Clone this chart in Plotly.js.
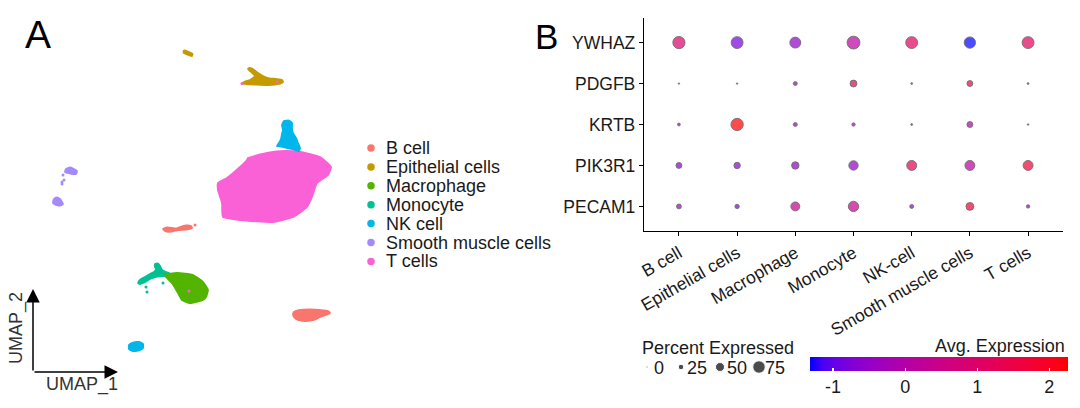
<!DOCTYPE html>
<html><head><meta charset="utf-8">
<script src="https://cdn.plot.ly/plotly-3.0.1.min.js"></script>
<style>html,body{margin:0;padding:0;background:#fff}#chart{width:1080px;height:408px}</style>
</head><body><div id="chart"></div>
<script>
// ---------- Panel A: UMAP clusters (outlines, UMAP units) ----------
const clusters = ['B cell','Epithelial cells','Macrophage','Monocyte','NK cell','Smooth muscle cells','T cells'];
const clusterColors = ['#F8766D','#C49A00','#53B400','#00C094','#00B6EB','#A58AFF','#FB61D7'];

const tcellX = [6.8,8.7,10.5,12.0,14.0,15.1,14.8,13.7,13.2,12.7,11.3,9.3,6.0,4.3,4.2,3.8,3.8,4.7,6.0,6.7];
const tcellY = [4.6,5.1,5.3,5.2,4.7,3.7,2.9,2.1,0.7,-0.3,-1.3,-1.8,-1.6,-1.3,0.1,1.4,2.1,2.6,3.7,4.4];

const nkTopX = [10.4,10.9,11.2,11.2,11.3,11.6,11.8,12.0,11.9,11.5,11.2,10.7,10.3,9.9,9.7,9.9,10.1,10.2,10.3,10.2];
const nkTopY = [8.3,8.35,8.1,7.6,7.1,6.6,6.1,5.6,5.3,5.4,5.5,5.6,5.7,5.8,5.8,6.1,6.5,7.0,7.4,7.9];
const nkLowX = [-5.1,-4.7,-4.1,-3.7,-3.7,-4.1,-4.7,-5.1];
const nkLowY = [-14.1,-13.85,-13.8,-14.0,-14.4,-14.65,-14.7,-14.5];

const epiMainX = [6.9,7.2,7.8,8.3,8.8,9.6,10.2,10.3,9.9,8.8,7.5,6.6,6.2,6.4,7.0,7.3,7.5,7.0,6.8];
const epiMainY = [13.6,13.55,13.1,12.8,12.6,12.5,12.4,12.2,12.0,11.9,11.95,12.0,12.05,12.2,12.4,12.6,12.8,13.3,13.5];
const epiSmallX = [0.4,1.25,1.2,0.35];
const epiSmallY = [15.35,15.0,14.8,15.15];

const smoothAX = [-11.4,-11.0,-10.7,-10.3,-10.4,-10.8,-11.2,-11.5];
const smoothAY = [3.5,3.65,3.55,3.3,3.0,3.0,3.1,3.2];
const smoothBX = [-12.6,-12.3,-12.0,-11.8,-11.7,-12.0,-12.4,-12.7];
const smoothBY = [0.5,0.65,0.5,0.2,0.0,-0.15,-0.1,0.1];

const bSmallX = [-1.7,-1.3,-0.8,-0.4,0.0,0.6,1.1,1.2,0.6,-0.2,-0.8,-1.4];
const bSmallY = [-2.5,-2.35,-2.4,-2.45,-2.3,-2.15,-2.2,-2.4,-2.55,-2.6,-2.75,-2.75];
const bBigX = [11.4,12.0,13.0,14.0,14.8,15.0,14.6,14.0,13.4,12.5,11.8,11.4,11.3];
const bBigY = [-10.8,-10.6,-10.55,-10.6,-10.7,-10.9,-11.1,-11.3,-11.6,-11.7,-11.6,-11.3,-11.0];

const monoX = [-2.5,-2.2,-2.0,-1.8,-1.4,-1.1,-1.2,-1.8,-2.4,-3.0,-3.5,-4.0,-4.2,-4.0,-3.5,-3.0,-2.6,-2.4,-2.5];
const monoY = [-6.0,-5.95,-6.2,-6.6,-6.8,-6.9,-7.2,-7.2,-7.3,-7.5,-7.8,-8.0,-7.9,-7.6,-7.3,-7.0,-6.8,-6.5,-6.3];

const macroX = [-1.5,-0.3,1.3,2.3,2.8,2.6,2.3,1.0,0.2,-0.2,-0.8,-1.3];
const macroY = [-7.1,-6.9,-7.1,-7.8,-8.6,-9.3,-9.6,-9.9,-9.6,-8.9,-7.9,-7.4];

// stray single cells
const strayX = [-11.7,-11.8,-11.8,-11.6,1.5,-3.3,-1.7,-3.4,0.9,6.2,9.7];
const strayY = [2.9,2.2,2.0,2.4,-2.1,-8.8,-7.9,-8.3,-8.7,12.05,12.2];
const strayCluster = [5,5,5,5,0,3,3,3,6,6,6];

// ---------- Panel B: dot plot ----------
const genes = ['YWHAZ','PDGFB','KRTB','PIK3R1','PECAM1'];
const cellTypes = ['B cell','Epithelial cells','Macrophage','Monocyte','NK-cell','Smooth muscle cells','T cells'];
const avgYWHAZ  = [0.95,-0.84,-0.56,0.12,1.15,-1.32,1.2];
const avgPDGFB  = [0.0,-0.2,-0.38,1.5,0.3,1.6,0.5];
const avgKRTB   = [-0.5,2.26,-0.4,-0.3,-0.2,-0.1,-0.3];
const avgPIK3R1 = [-0.7,-0.6,-0.5,-0.55,1.3,0.15,1.65];
const avgPECAM1 = [-0.4,-0.8,0.38,0.4,-0.6,1.75,-0.6];
const pctYWHAZ  = [77,75,68,82,75,71,75];
const pctPDGFB  = [0,0,18,39,3,32,3];
const pctKRTB   = [10,78,18,14,3,32,1];
const pctPIK3R1 = [32,36,43,57,61,61,61];
const pctPECAM1 = [25,21,54,64,18,46,14];
const pctLegend = [0,25,50,75];
const colorTicks = [-1,0,1,2];

// ---------- helpers ----------
function s2l(c){c/=255;return c<=0.04045?c/12.92:Math.pow((c+0.055)/1.055,2.4);}
function l2s(c){c=Math.max(0,Math.min(1,c));return Math.round(255*(c<=0.0031308?12.92*c:1.055*Math.pow(c,1/2.4)-0.055));}
function rgb2lab(r,g,b){
  const R=s2l(r),G=s2l(g),B=s2l(b);
  const X=(0.4124*R+0.3576*G+0.1805*B)/0.95047,Y=0.2126*R+0.7152*G+0.0722*B,Z=(0.0193*R+0.1192*G+0.9505*B)/1.08883;
  const f=t=>t>0.008856?Math.cbrt(t):7.787*t+16/116;
  const fx=f(X),fy=f(Y),fz=f(Z);
  return [116*fy-16,500*(fx-fy),200*(fy-fz)];
}
function lab2rgb(L,a,b){
  const fy=(L+16)/116,fx=fy+a/500,fz=fy-b/200;
  const fi=t=>t*t*t>0.008856?t*t*t:(t-16/116)/7.787;
  const X=fi(fx)*0.95047,Y=fi(fy),Z=fi(fz)*1.08883;
  const R=3.2406*X-1.5372*Y-0.4986*Z,G=-0.9689*X+1.8758*Y+0.0415*Z,B=0.0557*X-0.2040*Y+1.0570*Z;
  return 'rgb('+l2s(R)+','+l2s(G)+','+l2s(B)+')';
}
const labLo=rgb2lab(0,0,255), labHi=rgb2lab(255,0,0);
const colorscale=[];
for(let i=0;i<=20;i++){const t=i/20;colorscale.push([t,lab2rgb(labLo[0]+t*(labHi[0]-labLo[0]),labLo[1]+t*(labHi[1]-labLo[1]),labLo[2]+t*(labHi[2]-labLo[2]))]);}
const dotSize = p => 1.4 + 0.14*p;

const font = 'Liberation Sans, Arial, sans-serif';
const txt = '#1a1a1a';
const FS = 18;
const traces = [];

function poly(x,y,ci){
  traces.push({type:'scatter',mode:'lines',x:x.concat([x[0]]),y:y.concat([y[0]]),fill:'toself',
    fillcolor:clusterColors[ci],line:{color:clusterColors[ci],width:1.8,shape:'spline',smoothing:0.5},
    xaxis:'x',yaxis:'y',hoverinfo:'skip',showlegend:false});
}
poly(tcellX,tcellY,6);
poly(nkTopX,nkTopY,4);
poly(nkLowX,nkLowY,4);
poly(epiMainX,epiMainY,1);
poly(epiSmallX,epiSmallY,1);
poly(smoothAX,smoothAY,5);
poly(smoothBX,smoothBY,5);
poly(bSmallX,bSmallY,0);
poly(bBigX,bBigY,0);
poly(monoX,monoY,3);
poly(macroX,macroY,2);
traces.push({type:'scatter',mode:'markers',x:strayX,y:strayY,xaxis:'x',yaxis:'y',
  marker:{size:3,color:strayCluster.map(i=>clusterColors[i])},hoverinfo:'skip',showlegend:false});

// dot plot
const avgRows=[avgYWHAZ,avgPDGFB,avgKRTB,avgPIK3R1,avgPECAM1];
const pctRows=[pctYWHAZ,pctPDGFB,pctKRTB,pctPIK3R1,pctPECAM1];
const dx=[],dy=[],dc=[],ds=[];
genes.forEach((g,gi)=>cellTypes.forEach((c,ci)=>{dx.push(c);dy.push(g);dc.push(avgRows[gi][ci]);ds.push(dotSize(pctRows[gi][ci]));}));
traces.push({type:'scatter',mode:'markers',x:dx,y:dy,xaxis:'x2',yaxis:'y2',showlegend:false,
  marker:{size:ds,color:dc,colorscale:colorscale,line:{color:'#333',width:0.9},showscale:true,
    colorbar:{orientation:'h',x:810/1080,xanchor:'left',y:1-357/408,yanchor:'top',len:258,lenmode:'pixels',
      thickness:14,thicknessmode:'pixels',xpad:0,ypad:0,outlinewidth:0,
      tickvals:colorTicks,ticktext:colorTicks.map(String),ticks:'inside',tickcolor:'white',ticklen:3,tickwidth:1.2,
      tickfont:{family:font,size:FS,color:txt},title:{text:''}}}});

// legend layer (figure-pixel axis)
const legRowY = clusters.map((c,i)=>148+i*18.9);
traces.push({type:'scatter',mode:'markers',x:clusters.map(()=>371),y:legRowY,xaxis:'x3',yaxis:'y3',
  marker:{size:7.5,color:clusterColors},hoverinfo:'skip',showlegend:false});
const sizeLegX=[647,681,720,759];
traces.push({type:'scatter',mode:'markers',x:sizeLegX,y:pctLegend.map(()=>367),xaxis:'x3',yaxis:'y3',
  marker:{size:pctLegend.map(p=>dotSize(p)+0.6),color:'#000'},hoverinfo:'skip',showlegend:false});

const ann=[];
const A=(o)=>ann.push(Object.assign({showarrow:false,font:{family:font,size:FS,color:txt}},o));
clusters.forEach((c,i)=>A({xref:'paper',yref:'paper',x:384/1080,y:1-legRowY[i]/408,xanchor:'left',yanchor:'middle',text:c}));
A({xref:'paper',yref:'paper',x:38/1080,y:1-34/408,xanchor:'center',yanchor:'middle',text:'A',font:{family:font,size:39,color:'#000'}});
A({xref:'paper',yref:'paper',x:546/1080,y:1-36/408,xanchor:'center',yanchor:'middle',text:'B',font:{family:font,size:35,color:'#000'}});
A({xref:'paper',yref:'paper',x:16/1080,y:1-328/408,xanchor:'center',yanchor:'middle',text:'UMAP_2',textangle:-90,font:{family:font,size:18,color:'#333'}});
A({xref:'paper',yref:'paper',x:82/1080,y:1-384/408,xanchor:'center',yanchor:'middle',text:'UMAP_1',font:{family:font,size:18,color:'#333'}});
A({xref:'paper',yref:'paper',x:640/1080,y:1-348/408,xanchor:'left',yanchor:'middle',text:'Percent Expressed'});
const sizeLabX=[652,685,725,763];
pctLegend.forEach((p,i)=>A({xref:'paper',yref:'paper',x:sizeLabX[i]/1080,y:1-368/408,xanchor:'left',yanchor:'middle',text:String(p)}));
A({xref:'paper',yref:'paper',x:1067/1080,y:1-346/408,xanchor:'right',yanchor:'middle',text:'Avg. Expression'});
// UMAP axis arrows
ann.push({xref:'x',yref:'y',axref:'x',ayref:'y',x:-14.7,y:-8.5,ax:-14.7,ay:-16.8,text:'',showarrow:true,arrowhead:2,arrowsize:1.8,arrowwidth:1.5,arrowcolor:'#000',standoff:0});
ann.push({xref:'x',yref:'y',axref:'x',ayref:'y',x:-6.2,y:-16.8,ax:-14.7,ay:-16.8,text:'',showarrow:true,arrowhead:2,arrowsize:1.8,arrowwidth:1.5,arrowcolor:'#000',standoff:0});

const hid={visible:false,showgrid:false,zeroline:false,fixedrange:true};
const layout={
  width:1080,height:408,margin:{l:0,r:0,t:0,b:0},paper_bgcolor:'#fff',plot_bgcolor:'rgba(0,0,0,0)',
  showlegend:false,font:{family:font,color:txt},
  xaxis:Object.assign({domain:[0,1/3],range:[-18,18],anchor:'y'},hid),
  yaxis:Object.assign({domain:[0,1],range:[-20.4,20.4],anchor:'x'},hid),
  xaxis2:{domain:[644/1080,1063/1080],anchor:'y2',type:'category',categoryarray:cellTypes,categoryorder:'array',
    range:[-0.6,6.6],showline:true,linecolor:'#000',linewidth:1.2,ticks:'outside',ticklen:4,tickcolor:'#000',tickwidth:1,
    tickangle:-30,tickfont:{family:font,size:17.5,color:txt},showgrid:false,zeroline:false,fixedrange:true},
  yaxis2:{domain:[(408-231)/408,(408-18)/408],anchor:'x2',type:'category',categoryarray:genes,categoryorder:'array',
    range:[4.6,-0.6],showline:true,linecolor:'#000',linewidth:1.2,ticks:'outside',ticklen:4,tickcolor:'#000',tickwidth:1,
    tickfont:{family:font,size:17.5,color:txt},showgrid:false,zeroline:false,fixedrange:true},
  xaxis3:Object.assign({domain:[0,1],range:[0,1080],anchor:'y3'},hid),
  yaxis3:Object.assign({domain:[0,1],range:[408,0],anchor:'x3'},hid),
  annotations:ann
};
Plotly.newPlot('chart',traces,layout,{displayModeBar:false,staticPlot:true});
</script></body></html>
